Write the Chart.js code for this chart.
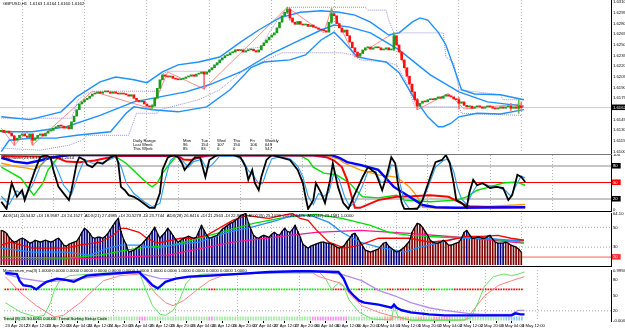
<!DOCTYPE html>
<html>
<head>
<meta charset="utf-8">
<title>GBPUSD H1</title>
<script src="https://cdn.jsdelivr.net/npm/chart.js@4.4.1/dist/chart.umd.min.js"></script>
<style>
  body { margin: 0; width: 625px; height: 330px; background: #fff; position: relative; overflow: hidden; font-family: "Liberation Sans", Arial, sans-serif; }
  canvas { position: absolute; left: 0; }
  .txt { position: absolute; font-size: 4.2px; line-height: 5px; white-space: nowrap; color: #000; z-index: 2; }
  .sep { position: absolute; left: 0; width: 612px; height: 1px; z-index: 2; }
</style>
</head>
<body>
<canvas id="price" width="625" height="154" style="top:0"></canvas>
<canvas id="stoch" width="625" height="58" style="top:154px"></canvas>
<canvas id="adx" width="625" height="54" style="top:212px"></canvas>
<canvas id="mom" width="625" height="64" style="top:266px"></canvas>

<div class="sep" style="top:154px;background:#777"></div>
<div class="sep" style="top:211px;background:#000"></div>
<div class="sep" style="top:266px;background:#000"></div>

<div class="txt" style="left:3px;top:1px">GBPUSD,H1&nbsp; 1.6163 1.6164 1.6160 1.6162</div>

<div class="txt" style="left:133px;top:138px">Daily Range</div>
<div class="txt" style="left:183px;top:138px">Mon</div>
<div class="txt" style="left:201px;top:138px">Tue</div>
<div class="txt" style="left:217px;top:138px">Wed</div>
<div class="txt" style="left:233px;top:138px">Thu</div>
<div class="txt" style="left:250px;top:138px">Fri</div>
<div class="txt" style="left:265px;top:138px">Weekly</div>
<div class="txt" style="left:133px;top:142px">Last Week</div>
<div class="txt" style="left:183px;top:142px">96</div>
<div class="txt" style="left:201px;top:142px">154</div>
<div class="txt" style="left:217px;top:142px">107</div>
<div class="txt" style="left:233px;top:142px">150</div>
<div class="txt" style="left:250px;top:142px">106</div>
<div class="txt" style="left:265px;top:142px">649</div>
<div class="txt" style="left:133px;top:146px">This Week</div>
<div class="txt" style="left:183px;top:146px">85</div>
<div class="txt" style="left:201px;top:146px">93</div>
<div class="txt" style="left:217px;top:146px">0</div>
<div class="txt" style="left:233px;top:146px">0</div>
<div class="txt" style="left:250px;top:146px">0</div>
<div class="txt" style="left:265px;top:146px">547</div>

<div class="txt" style="left:3px;top:155px">Stochastic(21,13,13) 49.6108 51.2014</div>
<div class="txt" style="left:3px;top:213px">ADX(14) 24.5432 +DI 18.9587 -DI 24.1527 &nbsp;ADX(21) 27.4985 +DI 20.5278 -DI 23.7744 &nbsp;ADX(28) 26.8416 +DI 21.2563 -DI 22.9283 &nbsp;ADX(35) 25.1099 +DI 21.6425 &nbsp;ADX(42) 23.4581 1.0000</div>
<div class="txt" style="left:3px;top:268px">Momentum_ma(3) 1.0000 0.0000 0.0000 0.0000 0.0000 0.0000 0.0000 1.0000 1.0000 0.0000 1.0000 0.0000 0.0000 0.0000 1.0000</div>
<div class="txt" style="left:3px;top:316px">Trend (8) 21 50.6061 0.0000 &nbsp;Trend Surfing Setup Code</div>

<script>
"use strict";

// ---------- data: hourly closes, 23 Apr 04:00 .. 3 May 12:00 ----------
const firstOpen = 1.6128;
const closes = [
  1.6130,1.6127,1.6129,1.6126,1.6122,1.6116,1.6119,1.6123,1.6125,1.6122,
  1.6120,1.6125,1.6116,1.6119,1.6123,1.6125,1.6122,1.6126,1.6129,1.6130,
  1.6133,1.6135,1.6137,1.6136,1.6133,1.6135,1.6132,1.6142,1.6150,1.6159,
  1.6167,1.6170,1.6173,1.6175,1.6178,1.6181,1.6182,1.6184,1.6182,1.6184,
  1.6185,1.6184,1.6182,1.6184,1.6182,1.6181,1.6182,1.6181,1.6180,1.6178,
  1.6180,1.6175,1.6172,1.6170,1.6171,1.6167,1.6164,1.6163,1.6164,1.6175,
  1.6189,1.6201,1.6208,1.6206,1.6205,1.6206,1.6203,1.6202,1.6201,1.6202,
  1.6203,1.6205,1.6206,1.6208,1.6206,1.6209,1.6210,1.6212,1.6209,1.6212,
  1.6215,1.6218,1.6222,1.6225,1.6229,1.6232,1.6235,1.6236,1.6239,1.6240,
  1.6243,1.6242,1.6243,1.6240,1.6242,1.6243,1.6244,1.6242,1.6240,1.6243,
  1.6249,1.6253,1.6257,1.6261,1.6264,1.6267,1.6274,1.6282,1.6291,1.6296,
  1.6300,1.6288,1.6282,1.6279,1.6283,1.6279,1.6278,1.6279,1.6276,1.6278,
  1.6275,1.6274,1.6272,1.6271,1.6270,1.6268,1.6282,1.6294,1.6291,1.6280,
  1.6274,1.6268,1.6271,1.6263,1.6254,1.6246,1.6240,1.6234,1.6238,1.6243,
  1.6246,1.6247,1.6244,1.6246,1.6247,1.6246,1.6243,1.6244,1.6246,1.6243,
  1.6244,1.6263,1.6250,1.6240,1.6229,1.6218,1.6206,1.6195,1.6184,1.6173,
  1.6164,1.6168,1.6171,1.6170,1.6173,1.6174,1.6173,1.6175,1.6177,1.6175,
  1.6178,1.6180,1.6178,1.6177,1.6174,1.6173,1.6168,1.6170,1.6165,1.6163,
  1.6164,1.6161,1.6163,1.6164,1.6163,1.6161,1.6163,1.6164,1.6163,1.6161,
  1.6160,1.6161,1.6163,1.6161,1.6163,1.6164,1.6161,1.6163,1.6161,1.6164,
  1.6162
];
// notable wicks: [bar, low, high]
const wicks = [
  [5,1.6109,1.6123],[12,1.6109,1.6124],[58,1.6160,1.6166],[78,1.6188,1.6212],
  [110,1.6294,1.6303],[111,1.6285,1.6302],[127,1.6280,1.6301],[151,1.6242,1.6267],
  [160,1.6159,1.6175],[176,1.6160,1.6176],[196,1.6158,1.6168],[199,1.6154,1.6173],[200,1.6157,1.6170]
];

// bollinger bands and price channel: [bar, price]
const bbUpper = [[0,1.6149],[11,1.6145],[23,1.6156],[29,1.6177],[38,1.6198],[44,1.6205],[51,1.6201],[56,1.6197],[62,1.6212],[68,1.6222],[76,1.6226],[84,1.6233],[92,1.6254],[99,1.6271],[107,1.6288],[115,1.6296],[123,1.6298],[130,1.6296],[136,1.6292],[142,1.6282],[149,1.6264],[153,1.6267],[158,1.6282],[161,1.6288],[164,1.6285],[168,1.6268],[171,1.6250],[174,1.6219],[177,1.6187],[182,1.6181],[192,1.6180],[201,1.6173]];
const bbMiddle = [[0,1.6128],[12,1.6128],[25,1.6135],[38,1.6151],[51,1.6170],[61,1.6177],[71,1.6184],[80,1.6194],[92,1.6212],[103,1.6236],[115,1.6257],[123,1.6271],[128,1.6278],[134,1.6275],[142,1.6267],[153,1.6243],[165,1.6208],[176,1.6184],[187,1.6170],[201,1.6164]];
const bbLower = [[0,1.6100],[3,1.6116],[12,1.6119],[21,1.6119],[29,1.6123],[42,1.6128],[48,1.6154],[51,1.6163],[58,1.6159],[68,1.6156],[79,1.6163],[88,1.6187],[96,1.6218],[101,1.6226],[111,1.6229],[117,1.6236],[123,1.6257],[128,1.6268],[131,1.6257],[137,1.6233],[143,1.6229],[148,1.6226],[153,1.6211],[158,1.6180],[164,1.6149],[168,1.6135],[170,1.6135],[173,1.6140],[176,1.6149],[183,1.6154],[192,1.6153],[201,1.6159]];
const chanUpper = [[0,1.6147],[27,1.6147],[29.5,1.6173],[33,1.6182],[36,1.6185],[61,1.6185],[62,1.6209],[64,1.6213],[80,1.6213],[82,1.6219],[86,1.6232],[90,1.6243],[100,1.6247],[103,1.6267],[107,1.6289],[110,1.6303],[140,1.6303],[141,1.6299],[148,1.6299],[149,1.6285],[151,1.6267],[170,1.6267],[171,1.6233],[174,1.6225],[176,1.6187],[192,1.6180],[193,1.6173],[201,1.6173]];
const chanLower = [[0,1.6105],[15,1.6102],[26,1.6109],[31,1.6116],[33,1.6123],[49,1.6123],[52,1.6154],[60,1.6154],[61,1.6159],[76,1.6173],[84,1.6187],[92,1.6211],[99.5,1.6225],[108,1.6239],[131,1.6239],[135,1.6236],[138,1.6229],[148,1.6226],[152,1.6222],[156,1.6197],[159,1.6163],[176,1.6163],[177,1.6154],[200,1.6151]];
const zigzag = [[0,1.6133],[5,1.6109],[10,1.6128],[12,1.6109],[35,1.6185],[58,1.6160],[64,1.6212],[78,1.6188],[110,1.6303],[124,1.6267],[127,1.6301],[136,1.6233],[151,1.6267],[160,1.6159],[172,1.6182],[178,1.6160],[200,1.6167]];

// stochastics: [bar, value]
const stochMain = [[0,15],[2,2],[4,49],[6,24],[8,36],[9,18],[13,73],[15,96],[17,100],[19,95],[20,73],[22,42],[24.5,27],[26,18],[27,36],[29,85],[30,96],[32,91],[33,82],[35,78],[37,87],[39,84],[42,96],[44,100],[45,85],[46,42],[47.5,36],[49,27],[51,24],[53,18],[57,4],[59,4],[61,31],[62,73],[64,95],[66,100],[68,96],[69.5,85],[70.5,73],[72.5,85],[74.5,96],[76.5,95],[78.5,60],[80,91],[83,100],[89,100],[92,96],[94,78],[95,55],[96.5,73],[97.5,49],[99,36],[100,60],[102,91],[104,100],[107,96],[111,91],[114,73],[116,49],[117,24],[118,2],[120,18],[121,49],[123,31],[124.5,13],[126.5,55],[127.5,85],[129.5,42],[131.5,13],[133.5,2],[135.5,24],[139,60],[141,78],[144,67],[145,55],[146.5,36],[148.5,67],[150,96],[151.5,85],[152.5,49],[154,13],[155,2],[160,2],[162,18],[165,60],[167,87],[169.5,91],[171,100],[172.5,85],[174,49],[175,18],[177,13],[179,4],[180,31],[181.5,55],[183,45],[185,49],[188,40],[190.5,42],[193,40],[195,18],[196.5,27],[198.5,64],[200,60],[201.5,51]];
const stochSignal = [[0,25],[3,10],[6,35],[9,25],[12,45],[15,80],[18,97],[21,80],[24,45],[27,28],[30,70],[32,92],[35,85],[38,85],[41,90],[44,97],[46,80],[48,50],[51,30],[55,15],[58,6],[61,12],[63,55],[65,90],[67,98],[70,88],[72,78],[74,88],[77,92],[79,75],[81,82],[84,98],[90,98],[93,90],[95,72],[97,62],[99,48],[100.5,48],[102,70],[104,93],[107,97],[111,93],[114,80],[116,60],[118,25],[120,10],[122,30],[124,25],[126,32],[128,68],[130,55],[132,25],[134,6],[136,14],[139,45],[141,70],[144,70],[146,50],[148,52],[150,82],[152,80],[153.5,45],[155,15],[157,2],[161,5],[163,28],[165,52],[167,78],[170,90],[172,93],[174,70],[175.5,40],[177,20],[179,10],[181,30],[183,45],[185,48],[188,44],[191,42],[194,35],[196,25],[198,45],[200,62],[201.5,58]];
const stochGreen = [[0,78],[7.5,58],[11,36],[12.5,27],[16,49],[18,73],[21,91],[23,100],[43,100],[48,85],[52,67],[56,49],[58,42],[60,49],[62,67],[65,85],[67,96],[69,100],[115,99],[118,91],[120,78],[124,67],[129,64],[134,49],[137,33],[139,24],[145,22],[148,24],[152,27],[155,18],[165,15],[175,18],[179,24],[183,36],[188,42],[193,49],[198,51],[201.5,45]];
const stochOrange = [[0,85],[7,78],[10,76],[13,73],[16,85],[18,95],[22,99],[125,99],[130,92],[132,85],[138,73],[145,64],[152,60],[157,42],[160,24],[162,5],[170,3],[185,6],[201.5,10]];
const stochRed = [[0,98],[20,97],[22,94],[25,88],[30,87],[36,90],[40,94],[45,98],[68,98],[70,92],[73,91],[76,96],[80,99],[120,99],[125,96],[128,90],[131,78],[133,55],[135,20],[136,4],[138,4],[145,18],[152,24],[158,25],[165,27],[172,24],[177,12],[180,7],[190,5],[201.5,5]];
const stochBlue = [[0,95],[5,88],[10,85],[15,90],[20,96],[26,100],[127,100],[130,95],[133,87],[138,82],[145,73],[151,42],[157,24],[162,9],[167,5],[175,4],[201.5,5]];

// ADX histogram per bar, and DI / ADX lines
const adxHist = [
  47,46,44,40,37,35,36,38,39,38, 36,34,35,37,36,35,36,37,36,35,
  36,38,39,36,32,31,33,34,35,36, 40,45,49,47,44,40,39,40,40,39,
  41,44,48,52,56,59,46,38,33,25, 26,27,29,31,33,36,39,42,46,50,
  44,39,42,45,49,46,42,38,35,37, 39,40,41,40,39,40,46,52,47,42,
  39,40,41,42,45,48,50,52,54,55, 57,59,62,63,64,55,48,42,40,39,
  41,42,41,40,43,45,43,42,46,49, 46,45,48,52,46,40,33,31,29,31,
  32,33,34,35,35,34,34,33,32,30, 29,30,32,36,39,43,44,40,35,31,
  27,26,25,26,27,28,31,34,35,31, 29,27,25,26,28,30,33,36,45,50,
  54,53,50,46,42,37,35,34,34,35, 37,35,32,32,33,34,35,39,45,47,
  43,39,39,40,40,39,39,41,42,38, 35,34,34,34,35,34,32,31,30,28,
  25
];
const adxBearRanges = [[0,7],[24,30],[127,134],[140,147],[155,178],[180,190],[194,200]];
const adxRed = [[0,32],[3.5,35],[12,29],[25,29],[30,32],[38,35],[43,42],[46,49],[48,49],[53,45],[56,39],[60,34],[69,39],[74,39],[79,42],[89,57],[94.5,62],[99.5,60],[103,59],[108,62],[112,64],[115,59],[118,57],[121,48],[126,35],[132,29],[138,32],[145,39],[157,39],[165,35],[172,37],[179,41],[185,41],[191,42],[196,39],[201,37]];
const adxBlue = [[0,29],[12,25],[25,25],[34,22],[41,29],[46,32],[53,32],[60,29],[66,32],[76,35],[87,45],[96,50],[106,57],[112,62],[119,62],[126,55],[131,45],[138,35],[145,30],[155,25],[161,30],[168,34],[175,39],[185,39],[196,37],[201,37]];
const adxGreen = [[0,20],[25,19],[38,22],[48,27],[56,30],[66,32],[76,39],[87,47],[97,54],[107,59],[115,62],[121,63],[131,59],[142,52],[149,45],[157,42],[170,40],[185,39],[201,35]];
const adxMagenta = [[0,17],[38,19],[64,22],[89,35],[121,45],[138,47],[157,44],[176,40],[201,34]];

// momentum / trend panel
const momBlue = [[0,94],[4.5,92],[5.5,79],[7,70],[10,68],[12,62],[14,70],[16,77],[20,83],[23,81],[26.5,77],[29,83],[31.5,89],[38,92],[51,96],[52,96],[52.5,92],[54.5,83],[57,70],[59,64],[60,68],[62,77],[66,83],[71,87],[79,89],[89,92],[102,96],[115,98],[129,96],[131,83],[133,60],[135,49],[137,40],[139,36],[144.5,32],[149.5,26],[150.5,32],[151.5,26],[153.5,21],[157,17],[164,13],[170,11],[179,11],[196,11],[197.5,15],[199.5,13],[201,13]];
const momLavender = [[0,92],[7,83],[15,77],[22.5,79],[29,83],[38,89],[51,96],[53.5,92],[60,83],[66,83],[76,87],[89,92],[119,98],[130,92],[138,79],[144.5,60],[151,49],[157,36],[164,26],[170,21],[179,15],[185,13],[196,13],[198.5,21],[201,21]];
const momGreen = [[0,36],[6,17],[12,8],[15,11],[17.5,36],[19,60],[21,79],[25,89],[38,94],[52,94],[54.5,60],[57,30],[60,13],[62,11],[65,21],[67.5,42],[70,74],[72.5,87],[76.5,92],[119,96],[121.5,96],[124,83],[126.5,60],[127.5,68],[129,74],[131,68],[133,42],[137,17],[142,4],[149.5,2],[150.5,30],[152,9],[157,1],[173,1],[178,2],[180.5,8],[183,36],[185.5,68],[189,87],[193,92],[196,89],[198.5,92],[201,96]];
const momSalmon = [[0,87],[6,55],[12,30],[19,8],[22.5,11],[29,36],[34,60],[38,79],[44.5,89],[52,92],[54.5,79],[58,55],[62,36],[65,30],[69,40],[74,60],[79,79],[84,89],[99.5,94],[119,94],[121.5,87],[126.5,79],[130,74],[134,49],[138,30],[144.5,17],[151,8],[157,2],[178,2],[181.5,23],[185.5,49],[191,70],[196,79],[201,87]];
const dotRowValue = 62;
const dotRedRanges = [[0,1],[4,8],[11,12],[79,81],[127,131],[137,138],[143,144],[148,150],[152,156],[160,161],[165,166],[174,200]];
const tickRow = [1.5, 8];
const tickPinkRanges = [[52,54],[79,80],[119,132]];
const tickSalmonRanges = [[147,150],[153,156],[160,162],[166,172]];
const tickBlueRanges = [[194,200]];

// axes
const priceTicks = [1.6310,1.6295,1.6280,1.6265,1.6250,1.6235,1.6220,1.6205,1.6190,1.6175,1.6145,1.6130,1.6115,1.6100];
const stochTicks = [100, 80, 50, 20, 0];
const stochLevels = [80, 50, 20];
const adxTicks = [64, 50, 30, 20];
const adxTickText = ['64.10', '50', '30', '20'];
const adxLevels = [50, 30, 20];
const momTicks = [98, 80, 50, 20, 0];
const momTickText = ['0.9994', '80', '50', '20', '-0.004'];
const momLevel = 20;
const daySeparators = [20, 44, 68, 92, 116, 140, 164, 188, 212];
const timeLabels = ['23 Apr 2012','23 Apr 12:00','23 Apr 20:00','24 Apr 04:00','24 Apr 12:00','24 Apr 20:00',
  '25 Apr 04:00','25 Apr 12:00','25 Apr 20:00','26 Apr 04:00','26 Apr 12:00','26 Apr 20:00',
  '27 Apr 04:00','27 Apr 12:00','27 Apr 20:00','30 Apr 04:00','30 Apr 12:00','30 Apr 20:00',
  '1 May 04:00','1 May 12:00','1 May 20:00','2 May 04:00','2 May 12:00','2 May 20:00','3 May 04:00','3 May 12:00'];
const labelBars = timeLabels.map((_, k) => k * 8);

// ---------- helpers ----------
const FONT = '"Liberation Sans", Arial, sans-serif';
const CLEAR = 'rgba(0,0,0,0)';
const X_MIN = -0.5, X_MAX = 234.5;
const inRanges = (i, ranges) => ranges.some(([a, b]) => i >= a && i <= b);
const pts = arr => arr.map(([x, y]) => ({ x, y }));

function line(arr, color, width, extra) {
  return Object.assign({ type: 'line', data: pts(arr), borderColor: color, borderWidth: width,
    pointRadius: 0, fill: false, tension: 0 }, extra || {});
}
function level(v, color, width, dash, order) {
  return line([[X_MIN, v], [X_MAX, v]], color, width, { borderDash: dash || [], order: order });
}

function xAxis(withLabels) {
  const ticks = withLabels ? [...new Set(labelBars.concat(daySeparators))].sort((a, b) => a - b) : daySeparators;
  return {
    type: 'linear', min: X_MIN, max: X_MAX, offset: false,
    afterBuildTicks: ax => { ax.ticks = ticks.map(v => ({ value: v })); },
    afterFit: ax => { ax.height = withLabels ? 9 : 0; ax.paddingLeft = 0; ax.paddingRight = 0; },
    grid: {
      color: c => (c.tick && daySeparators.includes(c.tick.value)) ? '#b4b4b4' : CLEAR,
      drawTicks: withLabels, tickLength: 2, tickBorderDash: [],
      tickColor: c => (c.tick && labelBars.includes(c.tick.value)) ? '#000' : CLEAR
    },
    border: { display: false, dash: [1, 2] },
    ticks: {
      display: withLabels, autoSkip: false, maxRotation: 0, minRotation: 0, align: 'start', padding: 0.5,
      font: { size: 4.2, family: FONT }, color: '#000',
      callback: v => { const k = labelBars.indexOf(v); return k >= 0 ? timeLabels[k] : ''; }
    }
  };
}

function yAxis(o) {
  const box = c => c.tick ? o.box(c.tick.value) : null;
  return {
    position: 'right', min: o.min, max: o.max,
    afterBuildTicks: ax => { ax.ticks = o.vals.map(v => ({ value: v })); },
    afterFit: ax => { ax.width = 14; ax.paddingTop = 0; ax.paddingBottom = 0; },
    grid: { drawOnChartArea: false, drawTicks: true, tickLength: 1, tickColor: '#000' },
    border: { display: true, color: '#000', width: 1 },
    ticks: {
      autoSkip: false, padding: 1, font: { size: 4.2, family: FONT },
      callback: (v, i) => o.text[i],
      color: c => { const b = box(c); return b ? b[1] : '#000'; },
      showLabelBackdrop: c => !!box(c),
      backdropColor: c => { const b = box(c); return b ? b[0] : CLEAR; },
      backdropPadding: { top: 0.5, bottom: 0, left: 1, right: 3 }
    }
  };
}

function panel(id, pad, datasets, yOpts, withLabels) {
  return new Chart(document.getElementById(id), {
    type: 'line',
    data: { datasets },
    options: {
      responsive: false, animation: false, events: [],
      layout: { padding: Object.assign({ left: 0, right: 0, top: 0, bottom: 0 }, pad) },
      plugins: { legend: { display: false }, tooltip: { enabled: false } },
      scales: { x: xAxis(withLabels), y: yAxis(yOpts) }
    }
  });
}

// ---------- price panel ----------
// FX hourly bars: each bar opens at the previous close
const opens = [firstOpen].concat(closes.slice(0, -1));
const lastClose = closes[closes.length - 1];
const bull = '#1c9a1c', bear = '#ff1010';

panel('price', { bottom: 1 }, [
  { type: 'bar', order: 0, grouped: false, barThickness: 2, minBarLength: 1,
    data: closes.map((c, i) => ({ x: i, y: [opens[i], c] })),
    backgroundColor: closes.map((c, i) => c >= opens[i] ? bull : bear) },
  { type: 'bar', order: 1, grouped: false, barThickness: 1,
    data: wicks.map(([i, lo, hi]) => ({ x: i, y: [lo, hi] })),
    backgroundColor: wicks.map(([i]) => closes[i] >= opens[i] ? '#4cc44c' : '#ff7070') },
  line(bbUpper, '#1e90ff', 1.4, { order: 2 }),
  line(bbMiddle, '#1e90ff', 1.4, { order: 2 }),
  line(bbLower, '#1e90ff', 1.4, { order: 2 }),
  line(zigzag, '#ff8c8c', 1, { order: 3 }),
  line(chanUpper, '#9a8ed8', 1, { order: 4, borderDash: [1, 1] }),
  line(chanLower, '#9a8ed8', 1, { order: 4, borderDash: [1, 1] }),
  level(lastClose, '#cfcfcf', 1, [], 5)
], {
  min: 1.60981, max: 1.63132,
  vals: priceTicks.concat([lastClose]),
  text: priceTicks.map(v => v.toFixed(4)).concat([lastClose.toFixed(4)]),
  box: v => v === lastClose ? ['#000', '#fff'] : null
}, false);

// ---------- stochastic panel ----------
panel('stoch', { top: 1, bottom: 2 }, [
  line(stochMain, '#000', 1.8, { order: 0 }),
  line(stochSignal, '#2a9df4', 1.1, { order: 1 }),
  line(stochBlue, '#0000ff', 2.4, { order: 2 }),
  line(stochRed, '#ff0000', 2, { order: 3 }),
  line(stochGreen, '#00dd00', 1.4, { order: 4 }),
  line(stochOrange, '#ff9900', 1.3, { order: 5 }),
  level(stochLevels[0], '#8c8c8c', 1, [], 6),
  level(stochLevels[1], '#ff0000', 1, [], 6),
  level(stochLevels[2], '#8c8c8c', 1, [], 6)
], {
  min: 0, max: 100, vals: stochTicks, text: stochTicks.map(String),
  box: v => v === 50 ? ['#ff0000', '#fff'] : (v === 80 || v === 20) ? ['#000', '#fff'] : null
}, false);

// ---------- ADX panel ----------
panel('adx', { top: 1, bottom: 1 }, [
  line(adxHist.map((v, i) => [i, v]), '#000', 1.3, { order: 0 }),
  line(adxRed, '#ff0000', 1.3, { order: 1 }),
  line(adxBlue, '#1e90ff', 1.3, { order: 1 }),
  line(adxGreen, '#00dd00', 1.3, { order: 1 }),
  line(adxMagenta, '#ff1493', 1.3, { order: 1 }),
  { type: 'bar', order: 2, grouped: false, barThickness: 1,
    data: adxHist.map((v, i) => ({ x: i, y: [12, v] })),
    backgroundColor: adxHist.map((v, i) => inRanges(i, adxBearRanges) ? '#7a0000' : '#000080') },
  level(adxLevels[0], '#a8a8a8', 1, [1, 2], 3),
  level(adxLevels[1], '#a8a8a8', 1, [1, 2], 3),
  level(adxLevels[2], '#ff5a5a', 1, [], 3)
], {
  min: 12, max: 64.5, vals: adxTicks, text: adxTickText,
  box: v => v === 20 ? ['#ff3030', '#fff'] : null
}, false);

// ---------- momentum / trend panel ----------
const barIdx = closes.map((_, i) => i);
panel('mom', { top: 2 }, [
  line(momBlue, '#0000ff', 2.4, { order: 0 }),
  line(momLavender, '#b58cf0', 1.3, { order: 1 }),
  line(momGreen, '#66e266', 1, { order: 2 }),
  line(momSalmon, '#ff8080', 1, { order: 3 }),
  { type: 'line', order: 4, showLine: false, data: barIdx.map(i => ({ x: i, y: dotRowValue })),
    pointStyle: 'rect', pointRadius: 1.2, pointBorderWidth: 0,
    pointBackgroundColor: barIdx.map(i => inRanges(i, dotRedRanges) ? '#ff0000' : '#00ee00') },
  { type: 'bar', order: 5, grouped: false, barThickness: 1,
    data: barIdx.map(i => ({ x: i, y: tickRow })),
    backgroundColor: barIdx.map(i => inRanges(i, tickPinkRanges) ? '#ff8cf0' :
      inRanges(i, tickSalmonRanges) ? '#ffa0a0' : inRanges(i, tickBlueRanges) ? '#8cc8ff' : '#a8e8a8') },
  level(momLevel, '#a8a8a8', 1, [1, 2], 6)
], {
  min: 0, max: 100, vals: momTicks, text: momTickText, box: () => null
}, true);
</script>
</body>
</html>
